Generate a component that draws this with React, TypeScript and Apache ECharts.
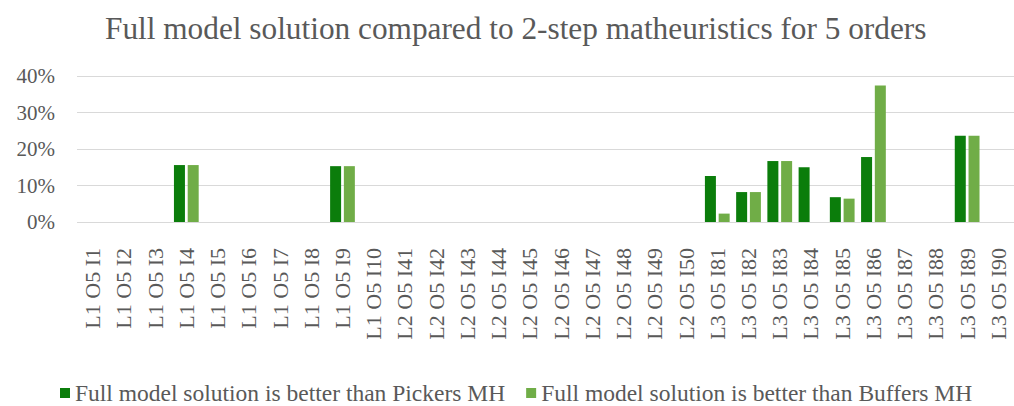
import React, { useEffect, useRef } from "react";
import * as echarts from "echarts";

// Instances (L = layout, O = orders, I = instance id)
const categories: string[] = [
  "L1 O5 I1", "L1 O5 I2", "L1 O5 I3", "L1 O5 I4", "L1 O5 I5",
  "L1 O5 I6", "L1 O5 I7", "L1 O5 I8", "L1 O5 I9", "L1 O5 I10",
  "L2 O5 I41", "L2 O5 I42", "L2 O5 I43", "L2 O5 I44", "L2 O5 I45",
  "L2 O5 I46", "L2 O5 I47", "L2 O5 I48", "L2 O5 I49", "L2 O5 I50",
  "L3 O5 I81", "L3 O5 I82", "L3 O5 I83", "L3 O5 I84", "L3 O5 I85",
  "L3 O5 I86", "L3 O5 I87", "L3 O5 I88", "L3 O5 I89", "L3 O5 I90",
];

// Improvement of the full model (in %) over each matheuristic
const betterThanPickers: number[] = [
  0, 0, 0, 15.6, 0, 0, 0, 0, 15.3, 0,
  0, 0, 0, 0, 0, 0, 0, 0, 0, 0,
  12.6, 8.2, 16.7, 15.0, 6.8, 17.8, 0, 0, 23.6, 0,
];
const betterThanBuffers: number[] = [
  0, 0, 0, 15.6, 0, 0, 0, 0, 15.3, 0,
  0, 0, 0, 0, 0, 0, 0, 0, 0, 0,
  2.3, 8.2, 16.7, 0, 6.4, 37.4, 0, 0, 23.6, 0,
];

const seriesNames = [
  "Full model solution is better than Pickers MH",
  "Full model solution is better than Buffers MH",
];

const FONT = "Liberation Serif";
const TEXT = "#595959";

export default function App() {
  const ref = useRef<HTMLDivElement>(null);

  useEffect(() => {
    if (!ref.current) return;
    const chart = echarts.init(ref.current, undefined, { renderer: "svg" });
    chart.setOption({
      animation: false,
      backgroundColor: "#ffffff",
      title: {
        text: "Full model solution compared to 2-step matheuristics for 5 orders",
        left: 100,
        top: 8,
        textStyle: { fontFamily: FONT, fontSize: 31.3, fontWeight: "normal", color: TEXT },
      },
      legend: {
        left: 60,
        top: 381,
        padding: 0,
        itemWidth: 10,
        itemHeight: 10,
        itemGap: 21,
        icon: "rect",
        textStyle: { fontFamily: FONT, fontSize: 23.5, color: TEXT },
        data: seriesNames,
      },
      grid: { left: 77, top: 76, width: 942, height: 146 },
      xAxis: {
        type: "category",
        data: categories,
        axisLine: { show: false },
        axisTick: { show: false },
        axisLabel: { rotate: 90, interval: 0, margin: 26, fontFamily: FONT, fontSize: 22, color: TEXT },
      },
      yAxis: {
        type: "value",
        min: 0,
        max: 40,
        interval: 10,
        axisLine: { show: false },
        axisTick: { show: false },
        splitLine: { lineStyle: { color: "#d9d9d9", width: 1 } },
        axisLabel: { formatter: "{value}%", margin: 22, fontFamily: FONT, fontSize: 21, color: TEXT },
      },
      series: [
        { name: seriesNames[0], type: "bar", data: betterThanPickers, barWidth: 11, barGap: "25%", itemStyle: { color: "#0b7d0b" } },
        { name: seriesNames[1], type: "bar", data: betterThanBuffers, barWidth: 11, barGap: "25%", itemStyle: { color: "#70ad47" } },
      ],
    });
    return () => chart.dispose();
  }, []);

  return <div ref={ref} style={{ position: "fixed", left: 0, top: 0, width: 1014, height: 406 }} />;
}
